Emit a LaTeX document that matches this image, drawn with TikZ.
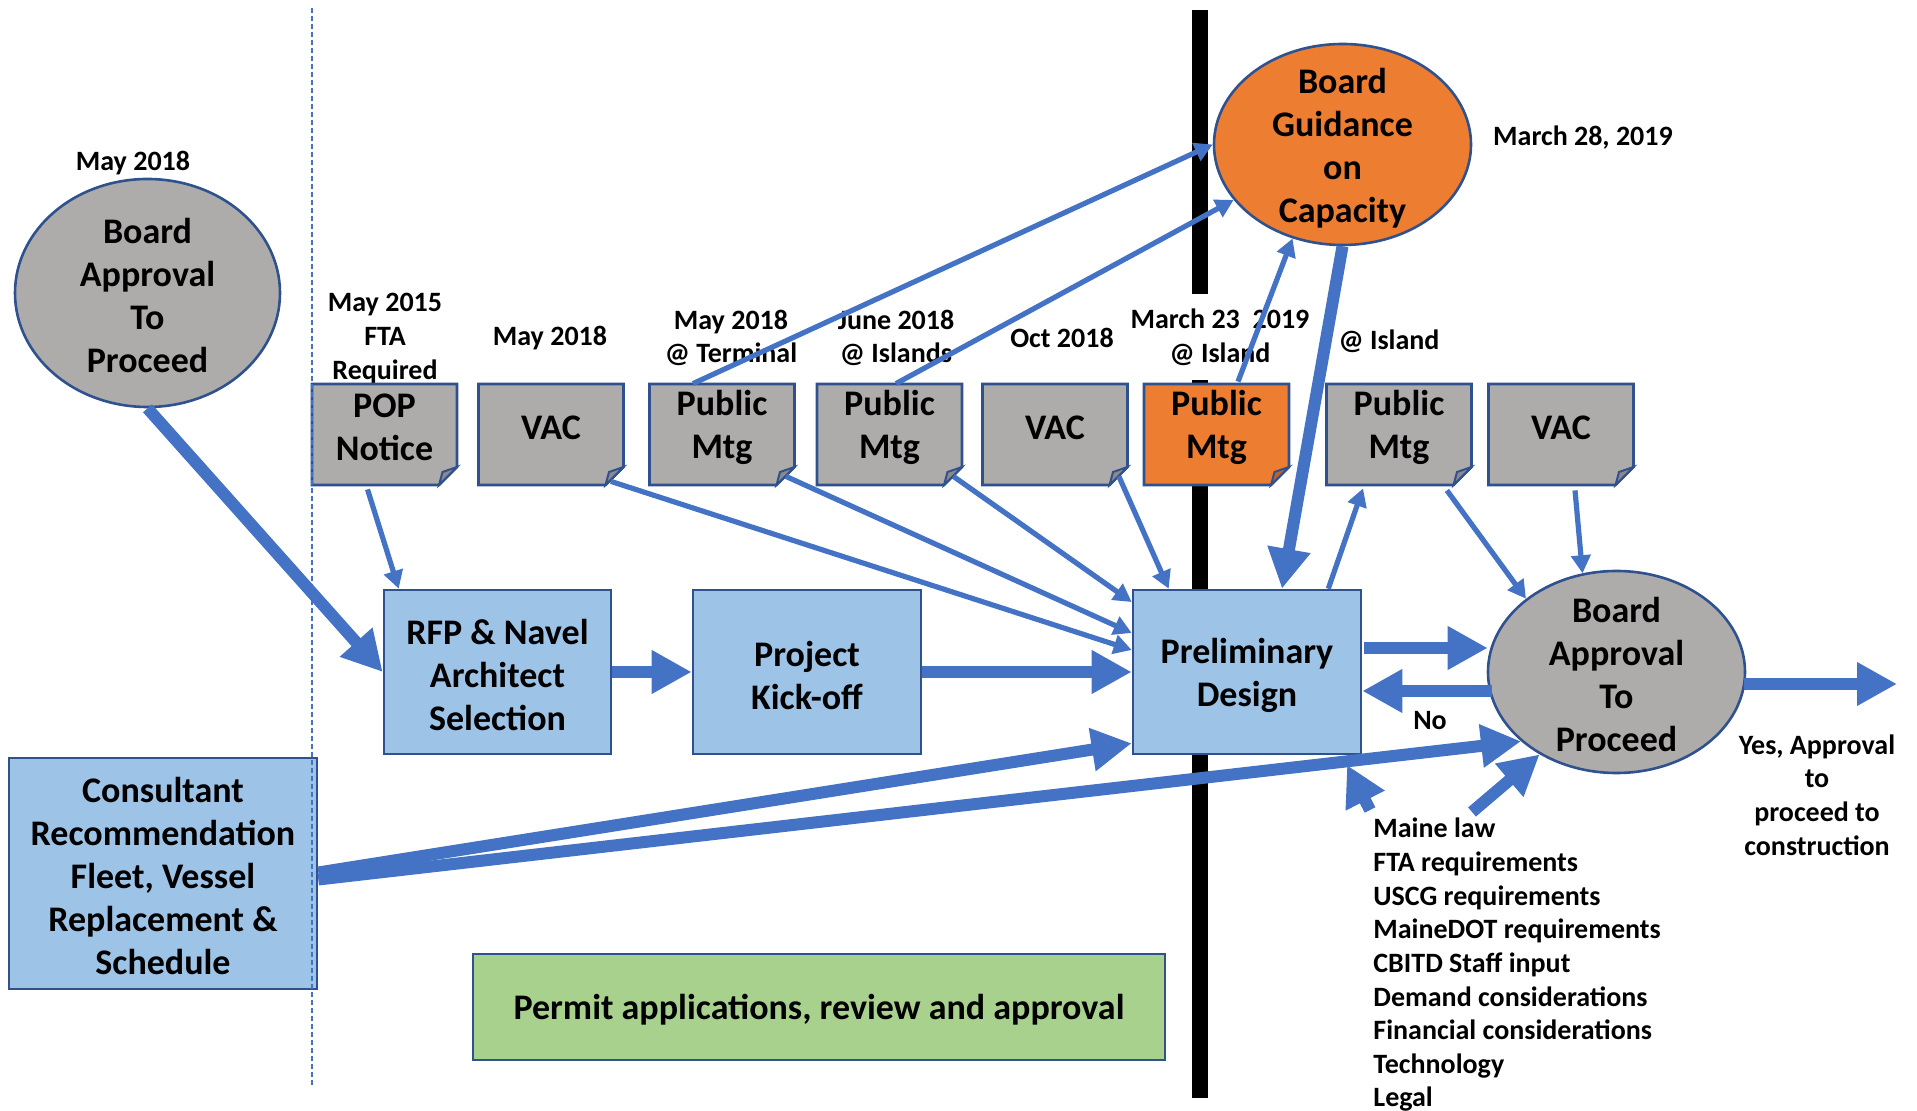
\documentclass[tikz,border=0pt]{standalone}
\usepackage{fontspec}
\setmainfont{Carlito}
\usetikzlibrary{arrows.meta,calc,shapes.geometric}
\definecolor{arrowblue}{HTML}{4472C4}
\definecolor{edgeblue}{HTML}{2F528F}
\definecolor{boxblue}{HTML}{9DC3E6}
\definecolor{boxgray}{HTML}{AEABAB}
\definecolor{foldgray}{HTML}{8B8989}
\definecolor{boxorange}{HTML}{ED7D31}
\definecolor{foldorange}{HTML}{BE6427}
\definecolor{boxgreen}{HTML}{A9D18E}
\tikzset{
  bigtxt/.style={font=\fontsize{18}{21.5}\selectfont\bfseries, align=center, inner sep=0pt},
  smalltxt/.style={font=\fontsize{14}{16.8}\selectfont\bfseries, align=center, inner sep=0pt},
  procbox/.style={rectangle, draw=edgeblue, line width=1.3pt, fill=boxblue, inner sep=0pt},
  oval/.style={ellipse, draw=edgeblue, line width=1.3pt, inner sep=0pt},
  noteframe/.style={rectangle, minimum width=72.5pt, minimum height=50.5pt, inner sep=0pt},
  thinarrow/.style={draw=arrowblue, line width=2.6pt, -{Triangle[length=9pt,width=9.5pt]}},
  thickarrow/.style={draw=arrowblue, line width=6pt, -{Triangle[length=20pt,width=20.5pt]}},
  listline/.style={font=\fontsize{14}{16.8}\selectfont\bfseries, inner sep=0pt, anchor=base west},
}
% #1 name, #2 centre x, #3 fill, #4 fold colour, #5 text
\newcommand{\notebox}[5]{%
  \path[fill=#3, draw=edgeblue, line width=1.3pt]
    (#2-72.5,384) -- (#2+72.5,384) -- (#2+72.5,467) -- (#2+54.5,485) -- (#2-72.5,485) -- cycle;
  \path[fill=#4, draw=edgeblue, line width=1pt]
    (#2+54.5,485) -- (#2+58,472) -- (#2+72.5,467) -- cycle;
  \node[noteframe] (#1) at (#2,434.5) {};
  \node[bigtxt] (#1t) at (#2,427.5) {#5};
}
\begin{document}
\begin{tikzpicture}[x=0.5pt,y=-0.5pt]
\useasboundingbox[fill=white] (0,0) rectangle (1917,1111);

% black timeline bar
\draw[line width=8pt] (1200,10) -- (1200,1098);

% labels
\node[smalltxt] (lbl0) at (133,163.5) {May 2018};
\node[smalltxt] (lbl1) at (385,338.5) {May 2015\\FTA\\Required};
\node[smalltxt] (lbl2) at (550,338) {May 2018};
\node[smalltxt] (lbl3) at (731,338) {May 2018\\@ Terminal};
\node[smalltxt] (lbl4) at (896,338) {June 2018\\@ Islands};
\node[smalltxt] (lbl5) at (1062,338) {Oct 2018};
\node[smalltxt, fill=white, inner xsep=2pt, inner ysep=7.5pt] (lbl6) at (1220,337) {March 23\ \ 2019\\@ Island};
\node[smalltxt] (lbl7) at (1389,341) {@ Island};
\node[smalltxt] (lbl8) at (1583,137.5) {March 28, 2019};
\node[smalltxt] (no) at (1430,721) {No};
\node[smalltxt] (yes) at (1817,795) {Yes, Approval\\to\\proceed to\\construction};
\foreach \t [count=\i from 0] in {Maine law, FTA requirements, USCG requirements, MaineDOT requirements,
    CBITD Staff input, Demand considerations, Financial considerations, Technology, Legal}
  \node[listline] (list\i) at (1373,838+33.6*\i) {\t};

% ellipses
\node[oval, fill=boxgray, minimum width=132.5pt, minimum height=114pt] (eL) at (147.5,293) {};
\node[bigtxt] (eLt) at ($(eL)+(0,2.5)$) {Board\\Approval\\To\\Proceed};
\node[oval, fill=boxorange, minimum width=128.5pt, minimum height=100.5pt] (og) at (1342.5,144.5) {};
\node[bigtxt] (ogt) at ($(og)+(0,3.5)$) {Board\\Guidance\\on\\Capacity};
\node[oval, fill=boxgray, minimum width=128.5pt, minimum height=101pt] (e2) at (1616.5,672) {};
\node[bigtxt] (e2t) at ($(e2)+(0,2.5)$) {Board\\Approval\\To\\Proceed};

% notes
\notebox{pop}{384.5}{boxgray}{foldgray}{POP\\Notice}
\notebox{vac1}{551}{boxgray}{foldgray}{VAC}
\notebox{pub1}{722}{boxgray}{foldgray}{Public\\Mtg}
\notebox{pub2}{889.5}{boxgray}{foldgray}{Public\\Mtg}
\notebox{vac2}{1055}{boxgray}{foldgray}{VAC}
\notebox{opub}{1216.5}{boxorange}{foldorange}{Public\\Mtg}
\notebox{pub3}{1399}{boxgray}{foldgray}{Public\\Mtg}
\notebox{vac3}{1561}{boxgray}{foldgray}{VAC}

% process boxes
\node[procbox, minimum width=113.5pt, minimum height=82pt] (rfp) at (497.5,672) {};
\node[bigtxt] (rfpt) at ($(rfp)+(0,3)$) {RFP \& Navel\\Architect\\Selection};
\node[procbox, minimum width=114pt, minimum height=82pt] (proj) at (807,672) {};
\node[bigtxt] (projt) at ($(proj)+(0,3.5)$) {Project\\Kick-off};
\node[procbox, minimum width=114pt, minimum height=82pt] (prelim) at (1247,672) {};
\node[bigtxt] (prelimt) at ($(prelim)+(0,3.5)$) {Preliminary\\Design};
\node[procbox, minimum width=154pt, minimum height=115.5pt] (cons) at (163,873.5) {};
\node[bigtxt] (const) at ($(cons)+(0,2.5)$) {Consultant\\Recommendation\\Fleet, Vessel\\Replacement \&\\Schedule};
\node[procbox, fill=boxgreen, minimum width=346pt, minimum height=53pt] (permit) at (819,1007) {};
\node[bigtxt] (permitt) at ($(permit)+(0,2.5)$) {Permit applications, review and approval};

% dashed divider
\draw[arrowblue, line width=0.8pt, dash pattern=on 2.5pt off 1.5pt] (312,8) -- (312,1088);

% free ends
\coordinate (yesend) at (1897,684);
\coordinate (mlA) at (1370,810);
\coordinate (mlAtip) at (1347,765);
\coordinate (mlB) at (1472,812);

% connectors
\draw[thickarrow] (eL.south) -- (rfp.west);
\draw[thinarrow] ($(pop.south)+(-17,4)$) -- ($(rfp.north west)+(16,0)$);
\draw[thickarrow] (rfp.east) -- (proj.west);
\draw[thickarrow] (proj.east) -- (prelim.west);
\draw[thinarrow] ($(vac1.south east)+(-13,-4)$) -- ($(prelim.west)+(0,-22)$);
\draw[thinarrow] ($(pub1.south east)+(-9,-9)$) -- ($(prelim.west)+(0,-39)$);
\draw[thinarrow] ($(pub2.south east)+(-9,-9)$) -- ($(prelim.west)+(0,-70)$);
\draw[thinarrow] ($(vac2.south east)+(-9,-9)$) -- ($(prelim.north west)+(37,0)$);
\draw[thinarrow] ($(pub1.north)+(-29,0)$) -- (og.west);
\draw[thinarrow] ($(pub2.north)+(6.5,0)$) -- (og.207);
\draw[thinarrow] ($(opub.north)+(21.5,-2)$) -- (og.242);
\draw[thickarrow] (og.south) -- ($(prelim.north)+(35,0)$);
\draw[thinarrow] ($(prelim.north east)+(-34,0)$) -- ($(pub3.south)+(-36,3)$);
\draw[thinarrow] ($(pub3.south east)+(-25,5)$) -- (e2.141);
\draw[thinarrow] ($(vac3.south)+(14,5)$) -- (e2.109);
\draw[thickarrow] ($(prelim.east)+(2,-24)$) -- ($(e2.west)+(1,-24)$);
\draw[thickarrow] ($(e2.west)+(5,19)$) -- ($(prelim.east)+(0,19)$);
\draw[thickarrow] ($(e2.east)+(-2,12)$) -- (yesend);
\draw[thickarrow] ($(cons.east)+(0,-1)$) -- ($(prelim.south west)+(0,-12)$);
\draw[thickarrow] ($(cons.east)+(0,6)$) -- (e2.216);
\draw[thickarrow] (mlA) -- (mlAtip);
\draw[thickarrow] (mlB) -- (e2.227);
\end{tikzpicture}
\end{document}
